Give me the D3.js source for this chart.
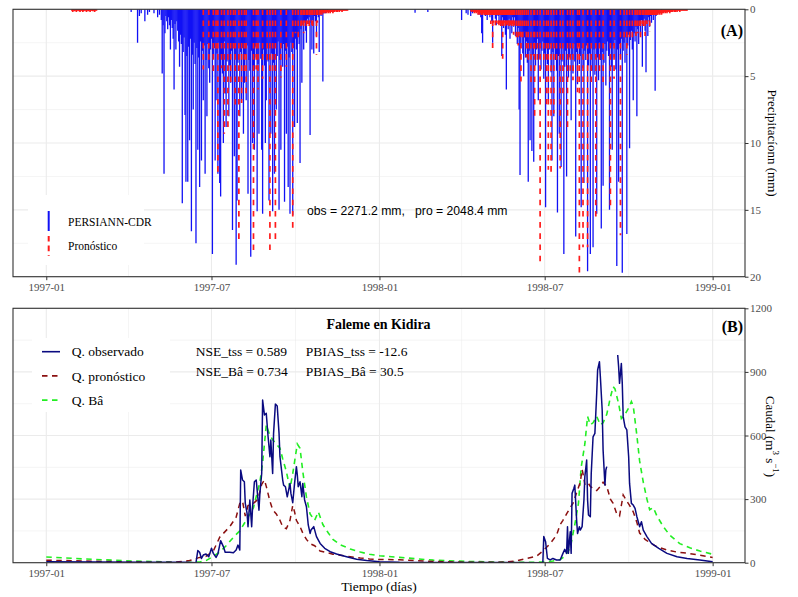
<!DOCTYPE html>
<html><head><meta charset="utf-8">
<script src="https://cdn.jsdelivr.net/npm/d3@7"></script>
<style>body{margin:0;background:#fff}svg{display:block}</style>
</head><body>
<script>
// ---------- tick labels ----------
const xTickLabels = ["1997-01","1997-07","1998-01","1998-07","1999-01"];
const xMinorLabels = ["1997-04","1997-10","1998-04","1998-10"];
const rainTicks = [0,5,10,15,20];
const rainMinor = [2.5,7.5,12.5,17.5];
const flowTicks = [0,300,600,900,1200];
const flowMinor = [150,450,750,1050];

// ---------- daily precipitation (day index from 1997-01-01) ----------
const obsRain97Start = 90;
const obsRain97 = [0,0,0,0.2,0,0,0,0,0,0,
2.5,0,0.5,0,0.3,0,0,0,0.9,0,
0,0.4,0,0.2,0,0,0,0,0.3,0,
0,0,0.6,0,0.4,0,0.8,4.8,1.2,12.3,
1.8,0.5,0.9,1.5,0.6,1.2,3.0,0.8,1.4,2.2,
6.0,1.1,3.0,0.9,1.6,2.4,4.3,1.9,2.6,14.5,
3.2,2.1,7.9,12.9,3.5,12.9,2.8,9.8,2.2,16.6,
3.4,7.5,2.5,4.1,17.5,2.9,10.5,3.6,13.3,2.4,
11.3,3.1,6.8,2.7,12.3,3.8,8.0,2.6,4.4,5.5,
3.0,2.2,18.3,3.7,2.9,11.3,6.8,3.3,12.3,2.5,
13.0,14.0,3.6,4.8,10.0,2.4,6.3,8.8,3.9,2.7,
8.0,4.2,5.5,3.1,16.5,2.8,11.0,3.5,19.1,14.3,
4.0,2.6,8.0,3.2,6.8,2.9,9.3,5.5,3.4,6.8,
2.7,13.8,3.8,4.6,18.5,3.1,10.0,4.4,10.5,2.8,
3.6,15.1,4.1,9.3,2.5,3.7,10.5,15.3,3.0,4.2,
10.0,6.8,2.6,3.9,14.3,2.9,9.3,3.3,15.1,4.0,
12.3,2.7,7.5,3.5,2.4,15.0,3.8,10.5,2.9,4.3,
2.6,14.4,3.1,9.3,2.8,13.3,3.6,15.3,2.5,3.2,
15.4,2.9,8.8,2.2,3.0,8.5,1.8,2.6,11.5,1.5,
5.5,1.2,3.0,0.9,1.6,2.5,0.7,1.1,0.6,9.4,
1.0,3.0,0.8,3.3,0.5,0.9,2.0,0.4,0.6,3.2,
0.3,0.5,0,5.4,0.3,0,0.3,0,0.2,0,0];

const obsRain98aStart = 404;
const obsRain98a = [0.25,0,0,0,0,0,0,0,0,0,0,0,0,0,0.2];

const obsRain98Start = 450;
const obsRain98 = [0,0,0,0,0,0.8,0,0,0,0,
0.3,0,0.4,0,0,0.5,0,0.3,0,0,
0,0.2,0,0,0.4,0,0.6,1.8,2.5,0.3,
0,0.5,0,0.8,0.2,0,0.6,0.3,0.9,2.5,
0.4,0,0.7,1.2,0.3,0.5,0.9,0.4,1.1,3.5,
0.6,1.4,0.8,1.9,6.0,0.9,1.5,0.7,2.2,1.0,
1.8,0.6,1.3,0.6,2.0,1.1,2.6,1.4,7.5,12.4,
2.9,1.7,3.3,5.0,2.1,3.6,2.4,4.0,12.9,3.1,
9.8,2.7,10.6,3.4,11.4,2.5,4.2,3.0,2.2,6.8,
3.7,2.6,4.5,3.1,2.4,5.2,3.3,14.8,2.8,4.1,
6.8,3.0,2.6,4.7,11.3,3.2,8.0,2.9,3.8,4.6,
15.2,3.5,9.3,2.7,11.8,3.9,2.8,18.3,4.3,3.1,
12.5,2.9,5.1,3.6,2.7,8.3,3.4,4.8,2.6,3.9,
17.0,3.2,5.6,2.8,4.1,3.5,14.8,2.9,4.4,13.0,
3.1,3.8,2.7,19.6,4.2,3.3,18.3,2.9,4.6,17.8,
3.0,4.9,2.8,15.3,3.6,5.3,2.5,3.8,16.4,3.2,
13.2,4.0,2.6,5.7,3.1,2.4,3.5,15.0,2.9,4.3,
10.5,2.7,3.6,2.3,4.5,19.2,3.0,12.9,2.6,3.4,
2.2,19.7,3.1,2.5,4.0,2.1,16.8,2.7,1.9,10.4,
2.3,1.6,3.0,6.8,1.8,2.4,1.3,8.0,1.5,2.6,
1.1,1.9,0.8,4.3,1.2,0.7,1.6,4.7,0.9,2.0,
0.6,1.3,0.5,1.0,0.4,0.8,0.3,6.1,0.5,0.2,
0,0.3,0,0,0.2,0];

const proRain97aStart = 28;
const proRain97a = [0.1,0.2,0.1,0.15,0.1,0.2,0.1,0.1,0.15,0.2,0.1,0.1,0.2,0.15,
0.1,0.1,0.2,0.1,0.15,0.1,0.2,0.1,0.1,0.15,0.1,0.2,0.1,0.1];

const proRain97Start = 160;
const proRain97 = [0,0,0,0,0,0,0,0,0,0,
0,0,4.5,0,0,0,0,0,3.8,0,
0,0,0,5.0,0,0,3.2,0,12.3,0,
0,0,4.4,0,0,9.3,0,0,0,9.0,
0,0,5.6,0,0,3.1,0,7.2,0,0,
0,17.5,0,0,7.0,0,0,4.8,0,6.5,
0,0,0,0,0,0,0,18.2,0,0,
4.5,0,6.0,0,0,0,0,5.2,0,0,
0,0,4.0,0,0,18.2,0,0,4.6,0,
0,17.2,0,0,0,0,0,5.1,0,0,
0,0,0,4.3,0,0,0,0,0,0,
16.6,0,0,1.8,0,0,2.4,0,0,1.5,
1.2,0,1.8,1.0,0,1.4,1.1,0,1.6,0.9,
0,1.2,1.3,0,0.8,0,3.4,1.0,0,0.7,
0.4,0.3,0.4,0.2,0.3,0.3,0.2,0.3,0.2,0.3,
0.2,0.3,0.2,0.2,0.3,0.2,0.2,0.1,0.2,0.2,
0.1,0.2,0.1,0.1,0.2,0.1,0.1,0.1,0.1,0.1,0.1];

const proRain98Start = 465;
const proRain98 = [0.1,0.2,0.1,0.2,0.3,0.2,0.3,0.2,0.4,0.3,
0.4,0.3,0.5,0.4,0.3,0.5,0.4,0.6,0.4,0.5,
0.3,0.6,1.1,0.5,2.9,1.0,0.6,1.2,1.0,0.7,
1.1,1.2,1.0,1.3,1.1,3.7,1.2,1.0,1.3,1.1,
1.2,1.0,1.3,1.1,1.2,1.4,1.1,1.9,1.2,0,
2.3,0,2.7,0,2.0,5.4,0,2.5,0,1.7,
0,3.6,0,4.0,0,0,5.8,0,0,3.5,
8.0,0,0,4.0,0,0,18.9,0,0,0,
4.2,0,0,7.1,0,12.0,0,0,12.3,0,
0,7.8,0,0,4.1,0,0,0,11.9,0,
0,6.4,0,0,0,0,9.2,0,0,4.6,
0,0,5.3,0,0,0,0,6.2,0,20.0,
0,0,0,17.8,0,0,0,0,17.8,0,
0,0,5.6,0,0,0,0,15.6,0,0,
0,4.8,0,0,0,5.5,0,0,0,0,
0,0,0,14.9,0,0,0,5.2,0,0,
0,0,0,0,16.9,0,0,0,2.5,0,
0,3.4,0,0,2.1,0,0,2.4,0,0,
1.6,2.0,0,1.8,0,1.6,2.2,0,1.1,1.3,
0,2.0,0.9,1.1,0.8,0.9,1.7,0.8,0.6,0.7,
0.5,0.6,0.5,0.4,0.5,0.4,0.3,0.4,0.3,0.4,
0.3,0.3,0.2,0.3,0.2,0.3,0.2,0.2,0.3,0.2,
0.2,0.2,0.1,0.2,0.2,0.1,0.2,0.1,0.1,0.2,
0.1,0.1,0.1,0.1,0.1,0.1,0.1,0.1];

// ---------- discharge (day index, m3/s) ----------
const qObsDay = [0,58,113,153,164,166,168,170,172,175,178,181,183,186,188,191,194,196,201,205,208,210,212,213,215,217,218,220,221,223,225,226,228,230,232,233,234,236,237,239,241,243,245,246,248,249,251,253,255,256,259,260,262,264,267,268,270,272,274,275,276,278,280,281,283,285,287,289,290,293,296,300,305,311,318,329,340,351,365,
387,460,544,545,547,549,552,555,559,563,566,568,570,571,572,574,575,576,578,579,581,582,584,585,587,589,590,592,593,594,596,597,599,601,603,604,606,607,609,610,612,613,614,620,
626,627,628,630,631,632,634,636,638,639,641,643,645,647,649,650,652,654,658,663,671,680,691,702,716,730];
const qObsVal = [5,3,2,2,0,57,49,20,36,41,28,68,44,25,41,104,76,49,49,47,60,83,60,437,390,382,280,233,170,296,170,264,382,390,296,248,327,421,767,697,705,594,500,579,421,610,748,739,610,500,390,366,358,311,374,327,283,374,453,414,358,382,311,374,296,264,178,138,154,170,123,91,68,52,41,28,16,10,5,
2,1,0,123,99,20,13,20,13,13,44,63,44,170,44,146,44,327,351,366,201,138,170,154,170,296,406,484,296,225,217,421,594,610,799,909,948,877,720,531,366,437,453,null,
980,925,846,940,846,689,641,626,500,374,280,272,256,217,186,170,193,154,123,91,68,44,28,20,13,5];

const qProDay = [0,40,95,139,157,168,175,183,190,201,208,212,215,218,221,227,232,236,239,241,245,248,252,256,259,263,267,270,272,274,278,281,285,289,294,300,307,314,322,333,344,354,365,
387,406,424,460,497,515,526,537,544,552,559,563,566,570,574,577,581,585,587,588,590,593,596,599,603,607,610,614,618,621,625,628,632,636,639,643,647,650,656,661,669,680,691,702,716,730];
const qProVal = [12,8,3,2,10,25,30,55,120,170,215,280,290,220,270,280,300,370,390,360,290,250,230,200,170,160,200,270,240,200,170,140,110,90,80,55,48,40,35,28,22,18,15,
14,10,6,2,2,8,20,30,55,90,130,180,200,230,260,280,330,380,440,420,370,380,360,350,340,360,380,360,300,280,230,220,320,290,270,240,190,140,110,95,75,60,50,45,35,25];

const qBaDay = [0,40,95,139,157,168,175,183,190,197,205,212,219,227,234,237,241,245,248,252,256,259,263,267,270,275,278,281,285,289,294,298,303,309,314,322,333,344,354,365,
387,424,460,497,533,544,555,563,568,574,579,583,586,590,593,596,599,603,607,610,614,618,621,623,627,630,634,638,641,643,647,650,654,658,661,665,669,676,683,694,705,716,730];
const qBaVal = [27,18,8,3,2,3,10,30,50,80,120,150,200,260,380,470,650,600,580,560,540,490,430,350,420,560,540,430,310,230,200,240,180,140,110,85,65,50,40,33,
25,12,6,3,2,3,8,15,30,70,180,280,450,560,690,650,660,690,650,660,700,780,830,820,750,680,700,730,760,740,600,480,380,300,250,260,220,170,130,90,70,55,40];

// ---------- helpers ----------
const base = Date.UTC(1997,0,1);
const toDate = d => new Date(base + d*86400000);
const parseYM = d3.utcParse("%Y-%m");
const W = 798, H = 597;
const L = 13, R = 745;
const dStart = toDate(0), dEnd = toDate(729);
const span = dEnd - dStart;
const x = d3.scaleUtc().domain([new Date(+dStart - 0.05*span), new Date(+dEnd + 0.05*span)]).range([L, R]);

const top1 = 9.3, bot1 = 276.7;
const top2 = 308.3, bot2 = 562.7;
const yR = d3.scaleLinear().domain([0,20]).range([top1, bot1]);
const yQ = d3.scaleLinear().domain([0,1200]).range([bot2, top2]);

const svg = d3.select("body").append("svg").attr("width", W).attr("height", H)
  .style("font-family","'Liberation Serif', serif");
svg.append("rect").attr("width",W).attr("height",H).attr("fill","#fff");

const grid = "#EBEBEB";
function panel(y, y0, y1, majors, minors, id) {
  const g = svg.append("g");
  g.append("rect").attr("x",L).attr("y",y0).attr("width",R-L).attr("height",y1-y0).attr("fill","#fff");
  xMinorLabels.forEach(t => g.append("line").attr("x1",x(parseYM(t))).attr("x2",x(parseYM(t)))
    .attr("y1",y0).attr("y2",y1).attr("stroke",grid).attr("stroke-width",0.55));
  minors.forEach(v => g.append("line").attr("x1",L).attr("x2",R).attr("y1",y(v)).attr("y2",y(v))
    .attr("stroke",grid).attr("stroke-width",0.55));
  xTickLabels.forEach(t => g.append("line").attr("x1",x(parseYM(t))).attr("x2",x(parseYM(t)))
    .attr("y1",y0).attr("y2",y1).attr("stroke",grid).attr("stroke-width",1.1));
  majors.forEach(v => g.append("line").attr("x1",L).attr("x2",R).attr("y1",y(v)).attr("y2",y(v))
    .attr("stroke",grid).attr("stroke-width",1.1));
  svg.append("clipPath").attr("id",id).append("rect").attr("x",L).attr("y",y0).attr("width",R-L).attr("height",y1-y0);
}
panel(yR, top1, bot1, rainTicks, rainMinor, "c1");
panel(yQ, top2, bot2, flowTicks, flowMinor, "c2");

// ---------- top panel: precipitation ----------
function series(start, arr) { return arr.map((v,i)=>({d:start+i, v})).filter(o=>o.v>0); }
const blue = [...series(obsRain97Start, obsRain97), ...series(obsRain98aStart, obsRain98a), ...series(obsRain98Start, obsRain98)];
const red = [...series(proRain97aStart, proRain97a), ...series(proRain97Start, proRain97), ...series(proRain98Start, proRain98)];

const gR = svg.append("g").attr("clip-path","url(#c1)");
gR.selectAll("line.b").data(blue).join("line").attr("class","b")
  .attr("x1",d=>x(toDate(d.d))).attr("x2",d=>x(toDate(d.d)))
  .attr("y1",yR(0)).attr("y2",d=>yR(d.v))
  .attr("stroke","#1111F5").attr("stroke-width",1.3);
gR.selectAll("line.r").data(red).join("line").attr("class","r")
  .attr("x1",d=>x(toDate(d.d))).attr("x2",d=>x(toDate(d.d)))
  .attr("y1",yR(0)).attr("y2",d=>yR(d.v))
  .attr("stroke","#FF1A1A").attr("stroke-width",1.7).attr("stroke-dasharray","5.6,5.6");

// legend top
svg.append("rect").attr("x",28).attr("y",195).attr("width",116).attr("height",70).attr("fill","#fff");
svg.append("line").attr("x1",48.7).attr("x2",48.7).attr("y1",211).attr("y2",231).attr("stroke","#1111F5").attr("stroke-width",2);
svg.append("line").attr("x1",48.7).attr("x2",48.7).attr("y1",236).attr("y2",256).attr("stroke","#FF1A1A").attr("stroke-width",2).attr("stroke-dasharray","5.6,4");
svg.append("text").attr("x",68).attr("y",226).attr("font-size",11.5).text("PERSIANN-CDR");
svg.append("text").attr("x",68).attr("y",250).attr("font-size",11.5).text("Pronóstico");

svg.append("text").attr("x",307).attr("y",215).attr("font-size",12.2)
  .style("font-family","'Liberation Sans', Arial, sans-serif").style("white-space","pre")
  .text("obs = 2271.2 mm,   pro = 2048.4 mm");

svg.append("text").attr("x",743).attr("y",35.5).attr("text-anchor","end").attr("font-size",16).attr("font-weight","bold").text("(A)");

// ---------- bottom panel: discharge ----------
const gQ = svg.append("g").attr("clip-path","url(#c2)");
const mk = (days, vals) => days.map((d,i)=>({d, v: vals[i]}));
const line = d3.line().defined(d=>d.v!=null).x(d=>x(toDate(d.d))).y(d=>yQ(d.v));
gQ.append("path").datum(mk(qBaDay,qBaVal)).attr("d",line).attr("fill","none")
  .attr("stroke","#22EE22").attr("stroke-width",1.6).attr("stroke-dasharray","5.5,4.5");
gQ.append("path").datum(mk(qProDay,qProVal)).attr("d",line).attr("fill","none")
  .attr("stroke","#8B1010").attr("stroke-width",1.5).attr("stroke-dasharray","5.5,4.5");
gQ.append("path").datum(mk(qObsDay,qObsVal)).attr("d",line).attr("fill","none")
  .attr("stroke","#0A0A80").attr("stroke-width",1.5).attr("stroke-linejoin","round");

svg.append("text").attr("x",378.5).attr("y",329).attr("text-anchor","middle").attr("font-size",14).attr("font-weight","bold").text("Faleme en Kidira");
svg.append("text").attr("x",743).attr("y",332).attr("text-anchor","end").attr("font-size",16).attr("font-weight","bold").text("(B)");

// legend bottom
svg.append("rect").attr("x",32).attr("y",338).attr("width",138).attr("height",74).attr("fill","#fff");
const legB = [["Q. observado","#0A0A80",null],["Q. pronóstico","#8B1010","5.5,4.5"],["Q. Bâ","#22EE22","5.5,4.5"]];
legB.forEach((l,i)=>{
  const yy = 351.7 + i*24.2;
  const ln = svg.append("line").attr("x1",42).attr("x2",60).attr("y1",yy).attr("y2",yy).attr("stroke",l[1]).attr("stroke-width",1.6);
  if (l[2]) ln.attr("stroke-dasharray",l[2]);
  svg.append("text").attr("x",71.7).attr("y",yy+4.6).attr("font-size",13.5).text(l[0]);
});
svg.append("text").attr("x",195.7).attr("y",356.4).attr("font-size",13.5).text("NSE_tss = 0.589");
svg.append("text").attr("x",305.7).attr("y",356.4).attr("font-size",13.5).text("PBIAS_tss = -12.6");
svg.append("text").attr("x",195.7).attr("y",376.4).attr("font-size",13.5).text("NSE_Bâ = 0.734");
svg.append("text").attr("x",305.7).attr("y",376.4).attr("font-size",13.5).text("PBIAS_Bâ = 30.5");

// ---------- borders and axes ----------
[[top1,bot1],[top2,bot2]].forEach(([a,b])=>svg.append("rect").attr("x",L).attr("y",a).attr("width",R-L).attr("height",b-a)
  .attr("fill","none").attr("stroke","#333").attr("stroke-width",1.1));

function styleAxis(g){
  g.select(".domain").remove();
  g.selectAll("line").attr("stroke","#333").attr("stroke-width",1);
  g.selectAll("text").attr("fill","#4D4D4D").attr("font-size",11).style("font-family","'Liberation Serif', serif");
}
const xt = xTickLabels.map(parseYM);
svg.append("g").attr("transform",`translate(0,${bot1})`)
  .call(d3.axisBottom(x).tickValues(xt).tickFormat(d3.utcFormat("%Y-%m")).tickSize(3.5).tickPadding(3)).call(styleAxis);
svg.append("g").attr("transform",`translate(0,${bot2})`)
  .call(d3.axisBottom(x).tickValues(xt).tickFormat(d3.utcFormat("%Y-%m")).tickSize(3.5).tickPadding(3)).call(styleAxis);
svg.append("g").attr("transform",`translate(${R},0)`)
  .call(d3.axisRight(yR).tickValues(rainTicks).tickFormat(d3.format("d")).tickSize(3.5).tickPadding(1.5)).call(styleAxis);
svg.append("g").attr("transform",`translate(${R},0)`)
  .call(d3.axisRight(yQ).tickValues(flowTicks).tickFormat(d3.format("d")).tickSize(3.5).tickPadding(1.5)).call(styleAxis);

svg.append("text").attr("transform","translate(772,143) rotate(90)").attr("text-anchor","middle")
  .attr("dominant-baseline","central").attr("font-size",13).text("Precipitacíonn (mm)");
const ct = svg.append("text").attr("transform","translate(771,436.5) rotate(90)").attr("text-anchor","middle")
  .attr("dominant-baseline","central").attr("font-size",13);
ct.append("tspan").text("Caudal (m");
ct.append("tspan").attr("font-size",9).attr("dy",-5).text("3");
ct.append("tspan").attr("dy",5).text(" s");
ct.append("tspan").attr("font-size",9).attr("dy",-5).text("−1");
ct.append("tspan").attr("dy",5).text(")");
svg.append("text").attr("x",379).attr("y",591).attr("text-anchor","middle").attr("font-size",13.5).text("Tiempo (días)");
</script>
</body></html>
